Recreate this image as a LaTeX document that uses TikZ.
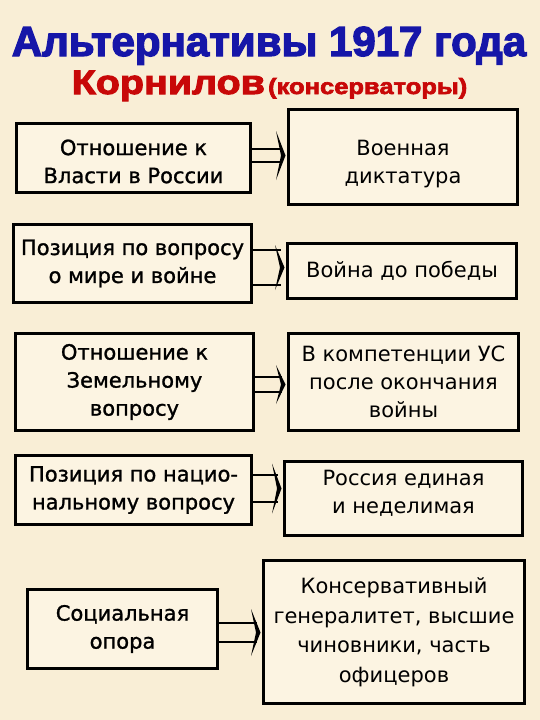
\documentclass[tikz,border=0pt]{standalone}
\usepackage{fontspec}
\setmainfont{DejaVu Sans}
\newfontfamily\titlefont[FakeBold=3]{Liberation Sans Bold}
\newfontfamily\subfont[FakeBold=3,FakeStretch=1.16]{Liberation Sans Bold}
\newfontfamily\leftfont[FakeBold=1.2]{DejaVu Sans}
\definecolor{bgcol}{RGB}{249,238,214}
\definecolor{boxcol}{RGB}{252,244,226}
\definecolor{titleblue}{RGB}{22,22,168}
\definecolor{titlered}{RGB}{200,8,8}
\newcommand{\topstrut}[1]{\rule{0pt}{#1}}
\newcommand{\dblarrow}[5]{%
  % #1 from node, #2 to node, #3 centre offset (pt, up), #4 half gap, #5 chevron half height
  \draw[conn] ([yshift=#3+#4]#1.east) -- ([xshift=-5pt,yshift=#3+#4]#1.east -| #2.west);
  \draw[conn] ([yshift=#3-#4]#1.east) -- ([xshift=-5pt,yshift=#3-#4]#1.east -| #2.west);
  \fill[black] ([xshift=-11pt,yshift=#3+#5]#1.east -| #2.west)
    -- ([xshift=-1.5pt,yshift=#3]#1.east -| #2.west)
    -- ([xshift=-11pt,yshift=#3-#5]#1.east -| #2.west)
    -- ([xshift=-6pt,yshift=#3]#1.east -| #2.west) -- cycle;
}
\begin{document}
\begin{tikzpicture}[x=1pt,y=-1pt,
  box/.style={draw=black, line width=3pt, fill=boxcol, align=center,
    inner sep=0pt, font=\fontsize{21}{28}\selectfont},
  lbox/.style={box, font=\leftfont\fontsize{21}{28}\selectfont},
  upby/.style={execute at end node={\rule[-#1]{0pt}{0pt}}},
  conn/.style={draw=black, line width=2.5pt}]
\fill[bgcol] (0,0) rectangle (540,720);
\useasboundingbox (0,0) rectangle (540,720);

\node[anchor=base, text=titleblue, font=\titlefont\fontsize{42}{46}\selectfont] (title) at (269,56) {Альтернативы 1917 года};
\node[anchor=base, text=titlered] (sub) at (269.5,94)
  {{\subfont\fontsize{34}{38}\selectfont Корнилов} {\subfont\fontsize{22}{26}\selectfont (консерваторы)}};

\node[lbox, minimum width=234pt, minimum height=69pt] (L1) at (133.5,158) {\topstrut{22.5pt}Отношение к\\Власти в России};
\node[box, minimum width=229pt, minimum height=95pt] (R1) at (403,157) {\topstrut{29pt}Военная\\диктатура};

\node[lbox, minimum width=238pt, minimum height=78pt] (L2) at (132.5,263.5) {Позиция по вопросу\\о мире и войне};
\node[box, minimum width=229pt, minimum height=55pt] (R2) at (402,271) {Война до победы};

\node[lbox, minimum width=238pt, minimum height=97pt] (L3) at (134.5,382) {Отношение к\\Земельному\\вопросу};
\node[box, minimum width=230pt, minimum height=97pt] (R3) at (403.5,382) {В компетенции УС\\после окончания\\войны};

\node[lbox, minimum width=236pt, minimum height=69pt] (L4) at (133.5,490) {Позиция по нацио-\\нальному вопросу};
\node[box, upby=13pt, minimum width=238pt, minimum height=74pt] (R4) at (403.5,498.5) {Россия единая\\и неделимая};

\node[lbox, minimum width=190pt, minimum height=79pt] (L5) at (122.5,629) {Социальная\\опора};
\node[box, minimum width=261pt, minimum height=143pt, font=\fontsize{21}{29.5}\selectfont] (R5) at (394,632) {Консервативный\\генералитет, высшие\\чиновники, часть\\офицеров};

\dblarrow{L1}{R1}{2.5pt}{6.5pt}{24.5pt}
\dblarrow{L2}{R2}{-4pt}{17.5pt}{22.5pt}
\dblarrow{L3}{R3}{-2.5pt}{7.5pt}{19.5pt}
\dblarrow{L4}{R4}{1.5pt}{13.5pt}{25pt}
\dblarrow{L5}{R5}{-3.5pt}{9.5pt}{23.5pt}
\end{tikzpicture}
\end{document}
